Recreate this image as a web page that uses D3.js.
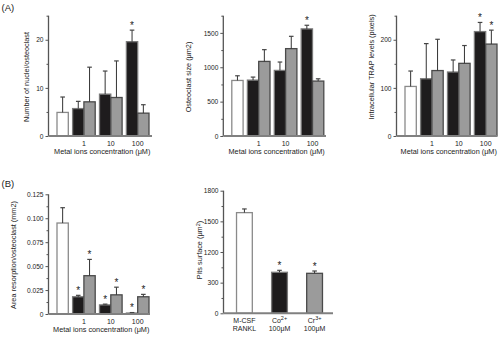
<!DOCTYPE html>
<html><head><meta charset="utf-8">
<script src="https://cdn.jsdelivr.net/npm/d3@7"></script>
<style>
body{margin:0;background:#fff;}
svg text{font-family:"Liberation Sans",Arial,sans-serif;fill:#222;}
</style></head>
<body><svg id="c" width="500" height="337"></svg>
<script>
// ---------- data ----------
const concentrations = ["1", "10", "100"];

// (A) number of nuclei per osteoclast
const nucleiControl = 4.9, nucleiControlErr = 8.1;
const nucleiCo = [5.7, 8.7, 19.6], nucleiCoErr = [7.2, 13.5, 22.0];
const nucleiCr = [7.1, 8.0, 4.75], nucleiCrErr = [14.3, 15.6, 6.5];
const nucleiSigCo = [false, false, true], nucleiSigCr = [false, false, false];
const nucleiTicks = [0, 10, 20];

// (A) osteoclast size
const sizeControl = 808, sizeControlErr = 876;
const sizeCo = [813, 954, 1558], sizeCoErr = [857, 1076, 1611];
const sizeCr = [1085, 1271, 799], sizeCrErr = [1256, 1450, 832];
const sizeSigCo = [false, false, true], sizeSigCr = [false, false, false];
const sizeTicks = [0, 500, 1000, 1500];

// (A) intracellular TRAP
const trapControl = 103, trapControlErr = 135;
const trapCo = [119, 133, 217], trapCoErr = [192, 158, 236];
const trapCr = [136, 151, 191], trapCrErr = [201, 188, 220];
const trapSigCo = [false, false, true], trapSigCr = [false, false, true];
const trapTicks = [0, 100, 200];

// (B) area resorption per osteoclast
const areaControl = 0.095, areaControlErr = 0.111;
const areaCo = [0.018, 0.0095, 0.001], areaCoErr = [0.0195, 0.0103, 0.0015];
const areaCr = [0.040, 0.020, 0.018], areaCrErr = [0.057, 0.028, 0.0205];
const areaSigCo = [true, true, true], areaSigCr = [true, true, true];
const areaTicks = [0, 0.025, 0.05, 0.075, 0.1, 0.125];
const areaTickLabels = ["0", "0.025", "0.050", "0.075", "0.100", "0.125"];

// (B) pits surface
const pitsCategories = [["M-CSF", "RANKL"], ["Co", "2+", "100\u03bcM"], ["Cr", "3+", "100\u03bcM"]];
const pitsValues = [1478, 602, 587];
const pitsErr = [1532, 631, 621];
const pitsSig = [false, true, true];
const pitsTicks = [0, 450, 900, 1350, 1800];
const pitsTickLabels = ["0", "300", "1200", "1500", "1800"];

// ---------- drawing ----------
const svg = d3.select("#c");
const FILL = {ctrl: "#ffffff", co: "#1e1c1d", cr: "#9b9b9b"};
const STROKE = {ctrl: "#8a8a8a", co: "#7a7a7a", cr: "#4a4a4a"};
const AXC = "#555";
const TICKFONT = 6.6;

function yAxis(g, ax, y, major, minor, fmt) {
  g.append("g").attr("transform", `translate(${ax},0)`)
    .call(d3.axisLeft(y).tickValues(minor).tickSize(2).tickFormat(""))
    .call(s => s.select(".domain").remove())
    .selectAll("line").attr("stroke", AXC);
  g.append("g").attr("transform", `translate(${ax},0)`)
    .call(d3.axisLeft(y).tickValues(major).tickSize(3).tickPadding(2).tickFormat(fmt))
    .call(s => s.select(".domain").remove())
    .call(s => s.selectAll("line").attr("stroke", AXC))
    .call(s => s.selectAll("text").attr("font-size", TICKFONT).attr("fill", "#222")
      .style("font-family", "'Liberation Sans',Arial,sans-serif"));
}

function drawBar(g, x, w, y, v, e, kind, sig) {
  g.append("rect").attr("x", x).attr("width", w)
    .attr("y", y(v)).attr("height", y(0) - y(v))
    .attr("fill", FILL[kind]).attr("stroke", STROKE[kind]).attr("stroke-width", 1.3);
  const cx = x + w / 2;
  g.append("line").attr("x1", cx).attr("x2", cx).attr("y1", y(v)).attr("y2", y(e))
    .attr("stroke", "#333").attr("stroke-width", 1);
  g.append("line").attr("x1", cx - 2.3).attr("x2", cx + 2.3).attr("y1", y(e)).attr("y2", y(e))
    .attr("stroke", "#444").attr("stroke-width", 1.2);
  if (sig) g.append("text").attr("x", cx).attr("y", y(e) - 1.5)
    .attr("text-anchor", "middle").attr("font-size", 10).attr("fill", "#333").text("*");
}

function panel(o) {
  const g = svg.append("g");
  const y = d3.scaleLinear().domain([0, o.max]).range([o.y0, o.yTop]);
  const minor = d3.range(0, o.max + 1e-9, o.minorStep).filter(v => !o.major.some(m => Math.abs(m - v) < 1e-9));
  yAxis(g, o.ax, y, o.major, minor, o.fmt);
  // bars
  const gap = 4.3, span = 92;
  const slot = d3.scaleBand().domain(d3.range(7)).range([o.ax + 8.5, o.ax + 8.5 + span - 3 * gap]);
  const bw = slot.bandwidth();
  const items = [{v: o.ctrl, e: o.ctrlErr, kind: "ctrl", slot: 0, grp: 0, sig: false}];
  concentrations.forEach((c, i) => {
    items.push({v: o.co[i], e: o.coErr[i], kind: "co", slot: 1 + 2 * i, grp: 1 + i, sig: o.sigCo[i]});
    items.push({v: o.cr[i], e: o.crErr[i], kind: "cr", slot: 2 + 2 * i, grp: 1 + i, sig: o.sigCr[i]});
  });
  items.forEach(d => drawBar(g, slot(d.slot) + gap * d.grp, bw, y, d.v, d.e, d.kind, d.sig));
  // axes lines
  g.append("line").attr("x1", o.ax).attr("x2", o.ax).attr("y1", o.yTop).attr("y2", o.y0)
    .attr("stroke", AXC).attr("stroke-width", 1.3);
  g.append("line").attr("x1", o.ax).attr("x2", o.xEnd).attr("y1", o.y0).attr("y2", o.y0)
    .attr("stroke", "#808080").attr("stroke-width", 2);
  // category labels
  concentrations.forEach((c, i) => {
    const cx = slot(2 + 2 * i) + gap * (1 + i);
    g.append("text").attr("x", cx).attr("y", o.y0 + 9.5).attr("text-anchor", "middle")
      .attr("font-size", 7).text(c);
  });
  g.append("text").attr("x", (o.ax + o.xEnd) / 2 + 2).attr("y", o.y0 + 17.5).attr("text-anchor", "middle")
    .attr("font-size", 7.3).text("Metal ions concentration (\u03bcM)");
  g.append("text").attr("transform", `translate(${o.labX},${o.labY}) rotate(-90)`)
    .attr("text-anchor", "middle").attr("font-size", 7.3).text(o.ylabel);
}

panel({ax: 48.5, y0: 136, yTop: 15.7, xEnd: 152, max: 25, major: nucleiTicks, minorStep: 5,
  fmt: d3.format("d"), ctrl: nucleiControl, ctrlErr: nucleiControlErr, co: nucleiCo, coErr: nucleiCoErr,
  cr: nucleiCr, crErr: nucleiCrErr, sigCo: nucleiSigCo, sigCr: nucleiSigCr,
  ylabel: "Number of nuclei/osteoclast", labX: 29, labY: 77});

panel({ax: 223.3, y0: 136, yTop: 15.7, xEnd: 326, max: 1750, major: sizeTicks, minorStep: 250,
  fmt: d3.format("d"), ctrl: sizeControl, ctrlErr: sizeControlErr, co: sizeCo, coErr: sizeCoErr,
  cr: sizeCr, crErr: sizeCrErr, sigCo: sizeSigCo, sigCr: sizeSigCr,
  ylabel: "Osteoclast size (\u03bcm2)", labX: 190.5, labY: 77});

panel({ax: 396.5, y0: 136, yTop: 15.7, xEnd: 497, max: 250, major: trapTicks, minorStep: 50,
  fmt: d3.format("d"), ctrl: trapControl, ctrlErr: trapControlErr, co: trapCo, coErr: trapCoErr,
  cr: trapCr, crErr: trapCrErr, sigCo: trapSigCo, sigCr: trapSigCr,
  ylabel: "Intracellular TRAP levels (pixels)", labX: 374, labY: 67});

panel({ax: 48.5, y0: 314, yTop: 194.3, xEnd: 150, max: 0.125, major: areaTicks, minorStep: 0.0125,
  fmt: (d, i) => areaTickLabels[areaTicks.indexOf(d)], ctrl: areaControl, ctrlErr: areaControlErr, co: areaCo, coErr: areaCoErr,
  cr: areaCr, crErr: areaCrErr, sigCo: areaSigCo, sigCr: areaSigCr,
  ylabel: "Area resorption/osteoclast (mm2)", labX: 16, labY: 255});

// pits surface panel
(function () {
  const g = svg.append("g");
  const ax = 223.5, y0 = 313.3, yTop = 190.7, xEnd = 333;
  const y = d3.scaleLinear().domain([0, 1800]).range([y0, yTop]);
  const minor = d3.range(225, 1800, 450);
  yAxis(g, ax, y, pitsTicks, minor, d => pitsTickLabels[pitsTicks.indexOf(d)]);
  const x = d3.scaleBand().domain(d3.range(pitsValues.length)).range([ax + 2.5, xEnd]).paddingInner(0.55).paddingOuter(0.3);
  const kinds = ["ctrl", "co", "cr"];
  pitsValues.forEach((v, i) => drawBar(g, x(i), x.bandwidth(), y, v, pitsErr[i], kinds[i], pitsSig[i]));
  g.append("line").attr("x1", ax).attr("x2", ax).attr("y1", yTop).attr("y2", y0)
    .attr("stroke", AXC).attr("stroke-width", 1.3);
  g.append("line").attr("x1", ax).attr("x2", xEnd).attr("y1", y0).attr("y2", y0)
    .attr("stroke", "#808080").attr("stroke-width", 2);
  pitsCategories.forEach((c, i) => {
    const cx = x(i) + x.bandwidth() / 2;
    if (c.length === 2) {
      g.append("text").attr("x", cx).attr("y", y0 + 10).attr("text-anchor", "middle").attr("font-size", 7).text(c[0]);
      g.append("text").attr("x", cx).attr("y", y0 + 18).attr("text-anchor", "middle").attr("font-size", 7).text(c[1]);
    } else {
      const t = g.append("text").attr("x", cx).attr("y", y0 + 10).attr("text-anchor", "middle").attr("font-size", 7);
      t.append("tspan").text(c[0]);
      t.append("tspan").attr("dy", -3).attr("font-size", 5.5).text(c[1]);
      g.append("text").attr("x", cx).attr("y", y0 + 18).attr("text-anchor", "middle").attr("font-size", 7).text(c[2]);
    }
  });
  const t = g.append("text").attr("transform", `translate(202,250) rotate(-90)`)
    .attr("text-anchor", "middle").attr("font-size", 7.3);
  t.append("tspan").text("Pits surface (\u03bcm");
  t.append("tspan").attr("dy", -2.5).attr("font-size", 5.5).text("2");
  t.append("tspan").attr("dy", 2.5).text(")");
})();

svg.append("text").attr("x", 1.5).attr("y", 11).attr("font-size", 9.5).text("(A)");
svg.append("text").attr("x", 1.5).attr("y", 187).attr("font-size", 9.5).text("(B)");
</script></body></html>
